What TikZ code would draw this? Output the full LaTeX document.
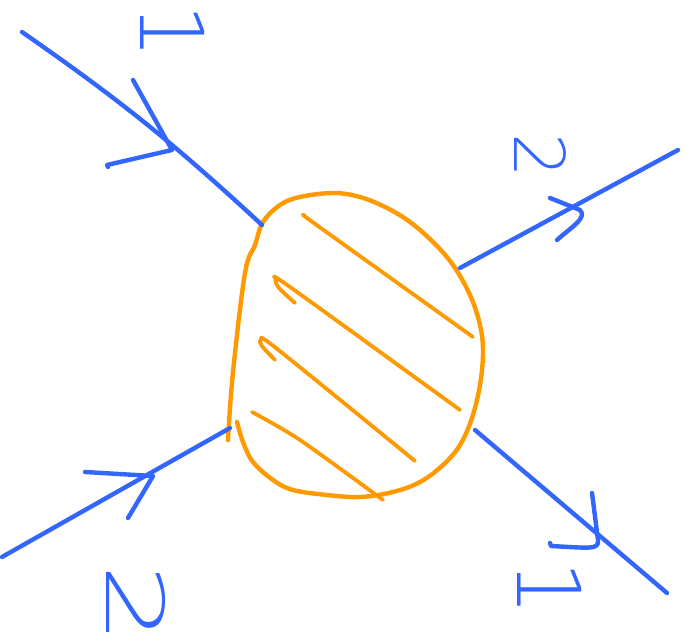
\documentclass[tikz,border=0pt]{standalone}
\usepackage{fontspec}
\newfontfamily\handfont{DejaVu Sans ExtraLight}
\definecolor{blueink}{RGB}{51,102,255}
\definecolor{orangeink}{RGB}{255,153,0}
\tikzset{
  blueline/.style={draw=blueink, line width=4.4pt, line cap=round, line join=round},
  orangeline/.style={draw=orangeink, line width=4.4pt, line cap=round, line join=round},
  lbl/.style={text=blueink, inner sep=0pt, rotate=-90, font=\handfont\fontsize{88}{88}\selectfont},
}
\begin{document}
\begin{tikzpicture}[x=1pt,y=-1pt]
\useasboundingbox (0,0) rectangle (687,644);
% blob outline
\draw[orangeline] plot[smooth, tension=0.6] coordinates {
 (228,440) (233,372) (245,273) (255,245) (263,222) (280,205) (300,197) (333,193)
 (360,197) (387,208) (410,222) (433,242) (453,265) (470,295) (480,325) (483,352)
 (480,385) (472,418) (460,445) (443,465) (420,482) (393,492) (360,497) (327,495)
 (293,490) (273,480) (253,462) (243,442) (237,422)};
% hatching
\draw[orangeline, line width=3.8pt] plot[smooth, tension=0.5] coordinates {(305,216) (318,226) (473,337)};
\draw[orangeline, line width=3.8pt] plot[smooth, tension=0.5] coordinates {(295,303) (279,288) (276,280) (290,287) (460,410)};
\draw[orangeline, line width=3.8pt] plot[smooth, tension=0.5] coordinates {(275,360) (262,346) (261,340) (276,348) (415,461)};
\draw[orangeline, line width=3.8pt] plot[smooth, tension=0.5] coordinates {(252,412) (300,440) (383,500)};
% external legs
\coordinate (tlA) at (22,32);
\coordinate (tlB) at (262,225);
\coordinate (trA) at (460,268);
\coordinate (trB) at (678,150);
\coordinate (blA) at (2,557);
\coordinate (blB) at (230,428);
\coordinate (brA) at (475,430);
\coordinate (brB) at (667,593);
\draw[blueline] (tlA) to[bend left=4] (tlB);
\draw[blueline] (trA) -- (trB);
\draw[blueline] (blA) -- (blB);
\draw[blueline] (brA) -- (brB);
% arrow chevrons
\coordinate (tlV) at (172,150);
\coordinate (trV) at (580,210);
\coordinate (blV) at (153,476);
\coordinate (brV) at (598,540);
\draw[blueline] (133,80) -- (tlV) -- (107,165) -- (108,167);
\draw[blueline] (550,198) -- (trV) .. controls (588,218) and (570,228) .. (557,240);
\draw[blueline] (85,472) -- (blV) -- (128,518);
\draw[blueline] (592,493) -- (brV) .. controls (599,550) and (590,548) .. (551,546) -- (550,543);
% labels
\node[lbl] (l1) at (173,31) {1};
\node[lbl, font=\handfont\fontsize{70}{70}\selectfont] (l2) at (540,156) {2};
\node[lbl, font=\handfont\fontsize{96}{96}\selectfont] (l3) at (136,604) {\scalebox{1.34}[0.83]{2}};
\node[lbl] (l4) at (550,588) {1};
\end{tikzpicture}
\end{document}
